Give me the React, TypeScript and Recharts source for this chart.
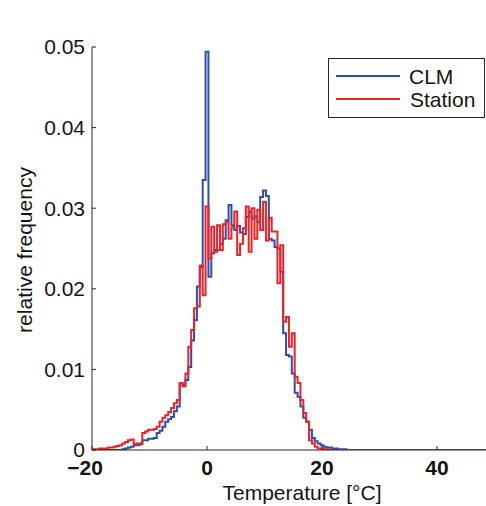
import React from "react";
import { LineChart, Line, XAxis, YAxis, Legend, Label } from "recharts";

// histogram bins are 0.5 °C wide, values are relative frequencies per bin
const BIN_WIDTH = 0.5;

// CLM model output, first bin centred at -14.5 °C
const CLM_START = -14.5;
const clmFreq = [
  0.0001, 0.0002, 0.0003, 0.0004, 0.0006, 0.0006, 0.0007, 0.0012, 0.0012, 0.0014,
  0.0014, 0.0015, 0.0021, 0.0024, 0.0029, 0.0035, 0.0038, 0.0041, 0.0048, 0.0054,
  0.0083, 0.0081, 0.0087, 0.0103, 0.0136, 0.0161, 0.0203, 0.0227, 0.0335,
  // 0 °C
  0.0494, 0.0215, 0.0244, 0.0248, 0.0248, 0.0256, 0.0262, 0.0285, 0.0304, 0.0279,
  0.0273, 0.0278, 0.027, 0.0268, 0.0289, 0.0296, 0.0287, 0.029, 0.0283, 0.0314,
  0.0322, 0.0315, 0.0262, 0.026, 0.0252, 0.025, 0.0221, 0.0145, 0.0118, 0.0116,
  0.0095, 0.0071, 0.0066, 0.0054, 0.004, 0.0035, 0.0025, 0.0015, 0.0011, 0.0008,
  0.0006, 0.0004, 0.0003, 0.0003, 0.0002, 0.0002, 0.0001, 0.0001, 0.0001,
];

// station observations, first bin centred at -19.5 °C
const STATION_START = -19.5;
const stationFreq = [
  0.0001, 0.0001, 0.0002, 0.0002, 0.0002, 0.0003, 0.0003, 0.0004, 0.0005, 0.0006,
  0.0008, 0.001, 0.0012, 0.0013, 0.0007, 0.0008, 0.0008, 0.0021, 0.0023, 0.0025,
  0.0025, 0.0026, 0.0029, 0.0035, 0.004, 0.0043, 0.0047, 0.0052, 0.0058, 0.0062,
  0.0083, 0.0079, 0.0095, 0.0128, 0.0149, 0.0176, 0.0178, 0.0229, 0.0192,
  // 0 °C
  0.0302, 0.0238, 0.0277, 0.0246, 0.0279, 0.0248, 0.028, 0.0283, 0.0262, 0.0276,
  0.0296, 0.0242, 0.0256, 0.0275, 0.0302, 0.0246, 0.03, 0.0262, 0.0298, 0.0273,
  0.0308, 0.026, 0.0288, 0.0271, 0.0271, 0.0207, 0.0254, 0.0159, 0.0165, 0.0128,
  0.0145, 0.0091, 0.0083, 0.0062, 0.0046, 0.0035, 0.0012, 0.0008, 0.0004, 0.0002,
  0.0002, 0.0001, 0.0001,
];

const X_MIN = -20;
const X_MAX = 50;
const xTicks = [-20, 0, 20, 40];
const yTicks = [0, 0.01, 0.02, 0.03, 0.04, 0.05];

const FONT = '"Liberation Sans", Arial, Helvetica, sans-serif';
const FONT_SIZE = 21;
const AXIS = "#262626";
const TEXT = "#141414";
const CLM_BLUE = "#2f4ea6";
const STATION_RED = "#ec2229";

const binValue = (series: number[], start: number, centre: number) => {
  const i = Math.round((centre - start) / BIN_WIDTH);
  return i >= 0 && i < series.length ? series[i] : 0;
};

// one row per left bin edge, drawn with stepAfter
const rows: { t: number; clm: number; station: number }[] = [
  { t: X_MIN, clm: 0, station: 0 },
];
for (let k = 0; k < (X_MAX - X_MIN) / BIN_WIDTH; k++) {
  const centre = X_MIN + BIN_WIDTH + k * BIN_WIDTH;
  rows.push({
    t: centre - BIN_WIDTH / 2,
    clm: binValue(clmFreq, CLM_START, centre),
    station: binValue(stationFreq, STATION_START, centre),
  });
}
rows.push({ t: X_MAX, clm: 0, station: 0 });

const fmtY = (v: number) => (v === 0 ? "0" : v.toFixed(2));

// digits stay centred on the tick, the minus sign hangs to the left
const XTick = (props: any) => {
  const { x, y, payload } = props;
  const v = payload.value as number;
  return (
    <text
      x={x + (v < 0 ? -7 : 0)}
      y={y + 14}
      textAnchor="middle"
      fontSize={FONT_SIZE}
      fontWeight={700}
      fill={TEXT}
      fontFamily={FONT}
    >
      {v < 0 ? `\u2212${Math.abs(v)}` : `${v}`}
    </text>
  );
};

const renderLegend = () => (
  <svg width={158} height={60} style={{ display: "block" }}>
    <rect x={0.5} y={0.5} width={156} height={59} fill="#fff" stroke={AXIS} strokeWidth={1} />
    <line x1={8} x2={72} y1={18} y2={18} stroke={CLM_BLUE} strokeWidth={2} />
    <text x={81} y={26} fontSize={FONT_SIZE} fill={TEXT} fontFamily={FONT}>
      CLM
    </text>
    <line x1={8} x2={72} y1={41} y2={41} stroke={STATION_RED} strokeWidth={2} />
    <text x={82} y={49} fontSize={FONT_SIZE} fill={TEXT} fontFamily={FONT}>
      Station
    </text>
  </svg>
);

const App: React.FC = () => {
  return (
    <div
      style={{
        position: "fixed",
        left: 0,
        top: 0,
        width: 486,
        height: 506,
        overflow: "hidden",
        background: "#fff",
        fontFamily: FONT,
      }}
    >
      <LineChart
        width={520}
        height={506}
        data={rows}
        margin={{ top: 47, right: 25.5, bottom: 0, left: 0 }}
      >
        <XAxis
          xAxisId="bottom"
          dataKey="t"
          type="number"
          domain={[X_MIN, X_MAX]}
          ticks={xTicks}
          interval={0}
          tickSize={-4}
          tickMargin={15}
          height={56}
          stroke={AXIS}
          tick={<XTick />}
          allowDataOverflow
        >
          <Label
            content={() => (
              <text x={302} y={500} textAnchor="middle" fontSize={FONT_SIZE} fill={TEXT}>
                Temperature [°C]
              </text>
            )}
          />
        </XAxis>
        <XAxis
          xAxisId="top"
          orientation="top"
          dataKey="t"
          type="number"
          domain={[X_MIN, X_MAX]}
          ticks={xTicks}
          tick={false}
          tickSize={-4}
          height={0}
          stroke={AXIS}
          allowDataOverflow
        >
          <Label
            content={() => (
              <text x={293} y={31} textAnchor="middle" fontSize={FONT_SIZE} fill={TEXT}>
                Tmin
              </text>
            )}
          />
        </XAxis>
        <YAxis
          domain={[0, 0.05]}
          ticks={yTicks}
          interval={0}
          tickFormatter={fmtY}
          tickSize={-4}
          tickMargin={11}
          width={92}
          stroke={AXIS}
          tick={{ fill: TEXT, fontSize: FONT_SIZE }}
          allowDataOverflow
        >
          <Label
            content={() => (
              <text
                x={32}
                y={250}
                textAnchor="middle"
                fontSize={FONT_SIZE}
                fill={TEXT}
                transform="rotate(-90 32 250)"
              >
                relative frequency
              </text>
            )}
          />
        </YAxis>
        <Line
          xAxisId="bottom"
          dataKey="clm"
          type="stepAfter"
          stroke={CLM_BLUE}
          strokeWidth={2}
          dot={false}
          isAnimationActive={false}
        />
        <Line
          xAxisId="bottom"
          dataKey="station"
          type="stepAfter"
          stroke={STATION_RED}
          strokeWidth={2}
          dot={false}
          isAnimationActive={false}
        />
        <Legend
          layout="vertical"
          align="center"
          verticalAlign="middle"
          content={renderLegend}
          wrapperStyle={{ position: "absolute", left: 328, top: 58, width: 158, height: 60 }}
        />
      </LineChart>
    </div>
  );
};

export default App;
